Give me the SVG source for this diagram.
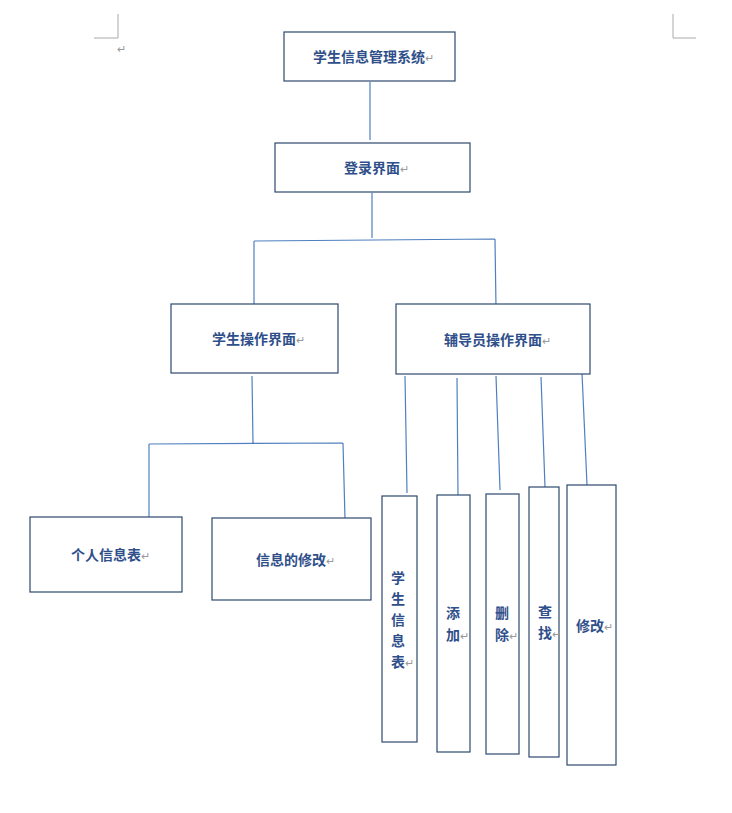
<svg xmlns="http://www.w3.org/2000/svg" width="732" height="813" viewBox="0 0 732 813">
<style>
.b{fill:#fff;stroke:#2e4a6e;stroke-width:1.2}
.t{font-family:"Noto Sans CJK SC","Liberation Sans",sans-serif;font-weight:bold;font-size:14px;fill:#2f4f8a}
.r{fill:#999;font-weight:normal;font-size:11px}
.c{stroke:#4f7fbf;stroke-width:1.2;fill:none}
.m{stroke:#aaa;stroke-width:1;fill:none}
</style>
<rect width="732" height="813" fill="#fff"/>
<path class="m" d="M94 38H118V14M673 14V38H696"/>
<text x="117" y="53" class="t r">↵</text>
<g id="connectors">
<path class="c" d="M370 82V140M372 193V238M254 241L495 239M254 241V305M495 239L496 308M252 376L253 443M149 444L343 443M149 444V519M343 443L345 519M405 376L407 493M457 378L458 496M496 376L500 490M541 377L545 487M582 373L587 485"/>
</g>
<g id="n1"><rect class="b" x="284" y="32" width="171" height="49"/><text x="313" y="62" class="t">学生信息管理系统<tspan class="r">↵</tspan></text></g>
<g id="n2"><rect class="b" x="275" y="143" width="195" height="49"/><text x="344" y="173" class="t">登录界面<tspan class="r">↵</tspan></text></g>
<g id="n3"><rect class="b" x="171" y="304" width="167" height="69"/><text x="212" y="344" class="t">学生操作界面<tspan class="r">↵</tspan></text></g>
<g id="n4"><rect class="b" x="396" y="304" width="194" height="70"/><text x="444" y="345" class="t">辅导员操作界面<tspan class="r">↵</tspan></text></g>
<g id="n5"><rect class="b" x="30" y="517" width="152" height="75"/><text x="71" y="560" class="t">个人信息表<tspan class="r">↵</tspan></text></g>
<g id="n6"><rect class="b" x="212" y="518" width="159" height="82"/><text x="256" y="565" class="t">信息的修改<tspan class="r">↵</tspan></text></g>
<g id="n7"><rect class="b" x="382" y="496" width="35" height="246"/><text class="t"><tspan x="391" y="583">学</tspan><tspan x="391" y="604">生</tspan><tspan x="391" y="625">信</tspan><tspan x="391" y="646">息</tspan><tspan x="391" y="667">表</tspan><tspan class="r">↵</tspan></text></g>
<g id="n8"><rect class="b" x="437" y="495" width="33" height="257"/><text class="t"><tspan x="446" y="618">添</tspan><tspan x="446" y="640">加</tspan><tspan class="r">↵</tspan></text></g>
<g id="n9"><rect class="b" x="486" y="494" width="33" height="260"/><text class="t"><tspan x="495" y="618">删</tspan><tspan x="495" y="640">除</tspan><tspan class="r">↵</tspan></text></g>
<g id="n10"><rect class="b" x="529" y="487" width="30" height="270"/><text class="t"><tspan x="538" y="617">查</tspan><tspan x="538" y="638">找</tspan><tspan class="r">↵</tspan></text></g>
<g id="n11"><rect class="b" x="567" y="485" width="49" height="280"/><text x="576" y="631" class="t">修改<tspan class="r">↵</tspan></text></g>
</svg>
